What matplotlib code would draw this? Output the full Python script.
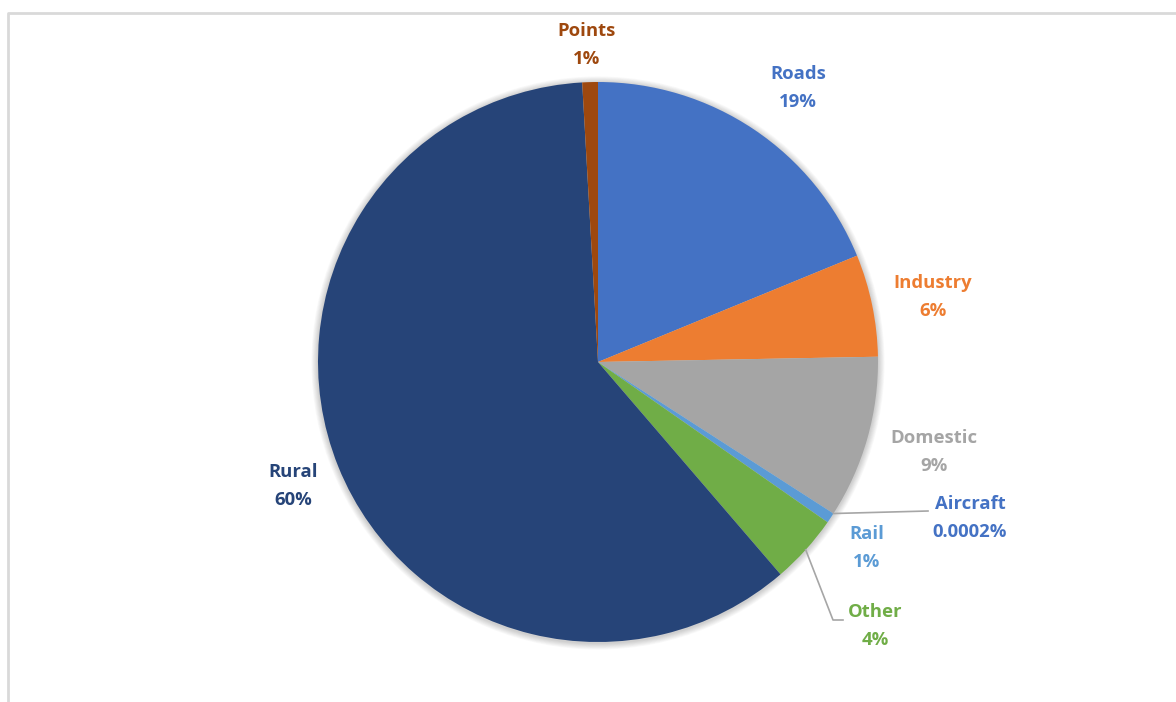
import numpy as np
import matplotlib.pyplot as plt
from matplotlib.patches import Circle

sources = ['Roads', 'Industry', 'Domestic', 'Aircraft', 'Rail', 'Other', 'Rural', 'Points']
shares = [18.8, 5.9, 9.4, 0.0002, 0.6, 4.0, 60.4, 0.9]
colors = ['#4472C4', '#ED7D31', '#A5A5A5', '#4472C4', '#5B9BD5', '#70AD47', '#264478', '#9E480E']

# label centres in pixels (x, y from top)
label_pos = [(798, 88), (933, 297), (934, 452), (970, 518), (867, 548), (875, 626), (293, 486), (587, 45)]

W, H = 1176, 702
fig = plt.figure(figsize=(W / 100, H / 100), dpi=100)
ax = fig.add_axes([0, 0, 1, 1])

cx, cy, r = 598, H - 362, 280

# chart frame
ax.plot([8, 8, W + 5], [-5, H - 13, H - 13], color='#D9D9D9', lw=2, solid_capstyle='butt')

# soft shadow round the pie
for k in range(8):
    ax.add_patch(Circle((cx, cy - 1), r + 1 + k * 0.8, color='#000000', alpha=0.025, lw=0, zorder=1))

wedges, _ = ax.pie(shares, colors=colors, startangle=90, counterclock=False,
                   center=(cx, cy), radius=r, frame=True,
                   wedgeprops=dict(linewidth=0, zorder=2))
ax.set_xlim(0, W)
ax.set_ylim(0, H)
ax.set_aspect('equal')
ax.axis('off')


def fmt(v):
    return f'{v:.4f}%' if v < 0.01 else f'{v:.0f}%'


for name, v, c, (lx, ly) in zip(sources, shares, colors, label_pos):
    ax.text(lx, H - ly, f'{name}\n{fmt(v)}', color=c, ha='center', va='center',
            fontsize=13.3, fontweight='bold', family='Open Sans', linespacing=1.72, zorder=5)


def edge_point(w):
    a = np.deg2rad((w.theta1 + w.theta2) / 2)
    return cx + r * np.cos(a), cy + r * np.sin(a)


# leader lines for the small slices
ax_, ay_ = edge_point(wedges[3])
ax.plot([ax_, 928], [ay_, H - 511], color='#A6A6A6', lw=1.2, zorder=4)
ox, oy = edge_point(wedges[5])
ax.plot([ox, 833, 843], [oy, H - 620, H - 620], color='#A6A6A6', lw=1.2, zorder=4)

fig.savefig('out.png', dpi=100, facecolor='white')
